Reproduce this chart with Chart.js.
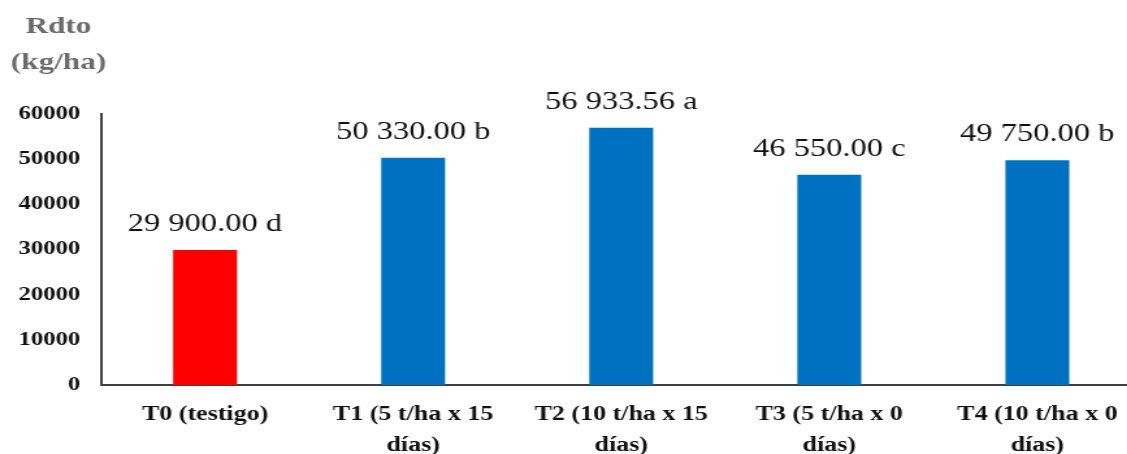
<!DOCTYPE html>
<html>
<head>
<meta charset="utf-8">
<script src="https://cdn.jsdelivr.net/npm/chart.js@4.4.0/dist/chart.umd.min.js"></script>
<style>
  html, body { margin: 0; padding: 0; background: #fff; overflow: hidden; width: 1127px; height: 454px; }
  #wrap { transform: scaleX(1.3); transform-origin: 0 0; }
  canvas { display: block; }
</style>
</head>
<body>
<div id="wrap"><canvas id="myChart" width="890" height="454"></canvas></div>
<script>
// data
const categories = [
  'T0 (testigo)',
  ['T1 (5 t/ha x 15', 'días)'],
  ['T2 (10 t/ha x 15', 'días)'],
  ['T3 (5 t/ha x 0', 'días)'],
  ['T4 (10 t/ha x 0', 'días)']
];
const rendimiento = [29900, 50330, 56933.56, 46550, 49750];
const valueLabels = ['29 900.00 d', '50 330.00 b', '56 933.56 a', '46 550.00 c', '49 750.00 b'];
const yTitle = ['Rdto', '(kg/ha)'];
const yMax = 60000;
const yStep = 10000;

const barColors = ['#FF0000', '#0070C0', '#0070C0', '#0070C0', '#0070C0'];
const serif = 'Times New Roman';

// labels above the bars + the y title in the top left corner
const labelsPlugin = {
  id: 'labelsPlugin',
  afterDatasetsDraw(chart) {
    const ctx = chart.ctx;
    const meta = chart.getDatasetMeta(0);
    ctx.save();
    ctx.fillStyle = '#111';
    ctx.font = '25px "' + serif + '"';
    ctx.textAlign = 'center';
    ctx.textBaseline = 'alphabetic';
    meta.data.forEach(function(bar, i) {
      ctx.fillText(valueLabels[i], bar.x, bar.y - 19);
    });
    ctx.fillStyle = '#6b6b6b';
    ctx.font = 'bold 24px "' + serif + '"';
    ctx.fillText(yTitle[0], 45, 33);
    ctx.fillText(yTitle[1], 45, 69);
    ctx.restore();
  }
};

window.addEventListener('load', function() {
  let ctx = document.getElementById('myChart').getContext('2d');
  let chart = new Chart(ctx, {
    type: 'bar',
    data: {
      labels: categories,
      datasets: [{
        data: rendimiento,
        backgroundColor: barColors,
        borderWidth: 0,
        barPercentage: 0.307,
        categoryPercentage: 1
      }]
    },
    options: {
      responsive: false,
      animation: false,
      devicePixelRatio: 1,
      layout: { padding: { top: 114, right: 12, bottom: 0, left: 0 } },
      plugins: {
        legend: { display: false },
        tooltip: { enabled: false }
      },
      scales: {
        x: {
          grid: { display: false, drawTicks: false },
          border: { display: true, color: '#404040', width: 2 },
          ticks: {
            color: '#111',
            font: { family: '"' + serif + '"', size: 20, weight: 'bold', lineHeight: 1.55 },
            padding: 14,
            maxRotation: 0,
            autoSkip: false
          },
          afterFit: function(scale) { scale.height = 69; }
        },
        y: {
          min: 0,
          max: yMax,
          grid: { display: false, drawTicks: false },
          border: { display: true, color: '#404040', width: 2 },
          ticks: {
            stepSize: yStep,
            color: '#111',
            font: { family: '"' + serif + '"', size: 19, weight: 'bold' },
            padding: 16,
            callback: function(v) { return String(v); }
          },
          afterFit: function(scale) { scale.width = 77.7; }
        }
      }
    },
    plugins: [labelsPlugin]
  });
});
</script>
</body>
</html>
